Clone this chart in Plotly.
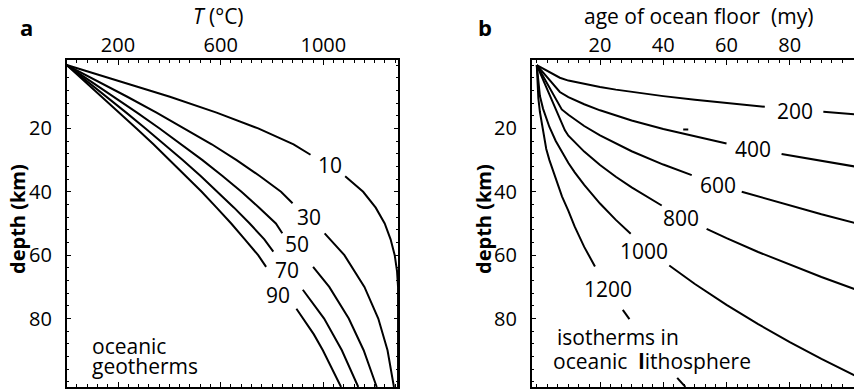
import plotly.graph_objects as go

W, H = 854, 389

# ---------------- Panel a: oceanic geotherms (T in °C vs depth in km), by plate age (my)
geo_labels = ["10", "30", "50", "70", "90"]
geo10_depth = [0, 5, 10, 15, 20, 25, 28.3, None, 35.1, 40, 45, 50, 55, 60, 65, 70, 80, 90, 101.6]
geo10_temp = [0, 205, 402, 584, 746, 884, 950, None, 1085, 1155, 1204, 1239, 1262, 1278, 1287, 1291, 1291, 1291, 1291]
geo30_depth = [0, 5, 10, 15, 20, 25, 30, 35, 40, 43.6, None, 53.1, 60, 70, 80, 90, 101.6]
geo30_temp = [0, 119, 236, 350, 460, 565, 662, 752, 835, 880, None, 1005, 1082, 1160, 1214, 1250, 1275]
geo50_depth = [0, 5, 10, 15, 20, 25, 30, 35, 40, 45, 50, 53.1, None, 63.7, 70, 80, 90, 101.6]
geo50_temp = [0, 92, 184, 274, 362, 447, 529, 607, 681, 750, 815, 840, None, 960, 1023, 1099, 1157, 1208]
geo70_depth = [0, 5, 10, 15, 20, 25, 30, 35, 40, 45, 50, 55, 58.9, None, 70.9, 80, 90, 101.6]
geo70_temp = [0, 78, 155, 232, 307, 381, 453, 522, 589, 652, 713, 770, 805, None, 920, 1003, 1072, 1136]
geo90_depth = [0, 5, 10, 15, 20, 25, 30, 35, 40, 45, 50, 55, 60, 63.7, None, 76.9, 85, 90, 101.6]
geo90_temp = [0, 69, 137, 205, 272, 338, 402, 465, 526, 584, 641, 694, 746, 777, None, 895, 963, 998, 1069]
# label positions (T, depth)
geo_label_temp = [1026, 945, 898, 857, 824]
geo_label_depth = [31.4, 47.8, 56.6, 64.8, 72.5]
temp_ticks = [200, 600, 1000]

# ---------------- Panel b: isotherms in oceanic lithosphere (depth in km vs age in my)
iso_labels = ["200", "400", "600", "800", "1000", "1200"]
iso200_age = [0, 7.3, 10, 15, 20, 25, 30, 40, 50, 60, 72.1, None, 90.6, 100.5]
iso200_depth = [0, 4.0, 4.9, 6.0, 6.93, 7.75, 8.49, 9.8, 10.96, 12.0, 13.16, None, 14.75, 15.5]
iso400_age = [0, 7.3, 10, 15, 20, 25, 30, 40, 50, 60.0, None, 77.4, 90, 100.5]
iso400_depth = [0, 8.5, 10.1, 12.37, 14.28, 15.97, 17.49, 20.2, 22.58, 24.74, None, 28.1, 30.3, 32.0]
iso600_age = [0, 7.9, 10, 15, 20, 25, 30, 40, 49.0, None, 64.8, 80, 90, 100.5]
iso600_depth = [0, 14.0, 15.7, 19.23, 22.2, 24.82, 27.19, 31.4, 34.75, None, 39.97, 44.4, 47.1, 49.8]
iso800_age = [0, 8.9, 10, 15, 20, 25, 30, 39.5, None, 53.7, 60, 70, 80, 90, 100.5]
iso800_depth = [0, 20.6, 22.3, 27.31, 31.54, 35.26, 38.62, 44.32, None, 51.68, 54.62, 59.0, 63.07, 66.9, 70.7]
iso1000_age = [0, 1, 2, 4, 6, 8, 10, 12, 15, 20, 25, 29.7, None, 41.9, 50, 60, 70, 80, 90, 100.5]
iso1000_depth = [0, 9.77, 13.82, 19.54, 23.94, 27.64, 30.9, 33.85, 37.84, 43.7, 48.86, 53.25, None, 63.25, 69.1, 75.69, 81.76, 87.4, 92.7, 97.96]
iso1200_age = [0, 0.5, 1, 2, 3, 4, 6, 8, 10, 12, 15, 18.4, None, 27.2, 29.3, None, 44.4, 47.0]
iso1200_depth = [0, 10.48, 14.81, 20.95, 26.5, 30.0, 36.1, 41.5, 46.0, 51.0, 57.38, 63.55, None, 77.27, 80.2, None, 98.72, 101.57]
iso_label_age = [81.6, 68.4, 57.4, 45.5, 33.9, 22.6]
iso_label_depth = [14.5, 26.4, 37.8, 48.4, 58.6, 70.6]
# small stray dash visible above the 400 isotherm in the original
stray_age = [46.3, 47.9]
stray_depth = [20.3, 20.3]
age_ticks = [20, 40, 60, 80]
depth_ticks = [20, 40, 60, 80]

FONT = "Open Sans"
LINE = dict(color="black", width=2)

fig = go.Figure()

geo_curves = [(geo10_temp, geo10_depth), (geo30_temp, geo30_depth), (geo50_temp, geo50_depth),
              (geo70_temp, geo70_depth), (geo90_temp, geo90_depth)]
for (t, d), name in zip(geo_curves, geo_labels):
    fig.add_trace(go.Scatter(x=t, y=d, mode="lines", line=LINE, name=name,
                             connectgaps=False, xaxis="x", yaxis="y", hoverinfo="skip"))

iso_curves = [(iso200_age, iso200_depth), (iso400_age, iso400_depth), (iso600_age, iso600_depth),
              (iso800_age, iso800_depth), (iso1000_age, iso1000_depth), (iso1200_age, iso1200_depth)]
for (a, d), name in zip(iso_curves, iso_labels):
    fig.add_trace(go.Scatter(x=a, y=d, mode="lines", line=LINE, name=name,
                             connectgaps=False, xaxis="x2", yaxis="y2", hoverinfo="skip"))
fig.add_trace(go.Scatter(x=stray_age, y=stray_depth, mode="lines", line=LINE, name="mark",
                         xaxis="x2", yaxis="y2", hoverinfo="skip"))

TXT = dict(size=21, family=FONT, color="black")
ann = []
for t, d, s in zip(geo_label_temp, geo_label_depth, geo_labels):
    ann.append(dict(x=t, y=d, xref="x", yref="y", text=s, showarrow=False,
                    xanchor="center", yanchor="middle", font=TXT))
for a, d, s in zip(iso_label_age, iso_label_depth, iso_labels):
    ann.append(dict(x=a, y=d, xref="x2", yref="y2", text=s, showarrow=False,
                    xanchor="center", yanchor="middle", font=TXT))


def px(x, y):
    return dict(x=x / W, y=1 - y / H, xref="paper", yref="paper",
                xanchor="center", yanchor="middle", showarrow=False)


ann += [
    dict(x=91, y=88.6, xref="x", yref="y", text="oceanic", showarrow=False,
         xanchor="left", yanchor="middle", font=TXT),
    dict(x=91, y=94.9, xref="x", yref="y", text="geotherms", showarrow=False,
         xanchor="left", yanchor="middle", font=TXT),
    dict(x=5.8, y=85.9, xref="x2", yref="y2", text="isotherms in", showarrow=False,
         xanchor="left", yanchor="middle", font=TXT),
    dict(x=4.5, y=93.3, xref="x2", yref="y2", text="oceanic  <b>l</b>ithosphere", showarrow=False,
         xanchor="left", yanchor="middle", font=TXT),
    dict(**px(26, 27), text="<b>a</b>", font=dict(size=22, family=FONT, color="black")),
    dict(**px(485, 27), text="<b>b</b>", font=dict(size=22, family=FONT, color="black")),
    dict(**px(218, 16), text="<i>T</i> (°C)", font=TXT),
    dict(**px(698, 16), text="age of ocean floor  (my)", font=TXT),
    dict(**px(17, 219), text="<b>depth (km)</b>", textangle=-90,
         font=dict(size=20, family=FONT, color="black")),
    dict(**px(483, 219), text="<b>depth (km)</b>", textangle=-90,
         font=dict(size=20, family=FONT, color="black")),
]

ydom = [(H - 387) / H, (H - 60) / H]
common = dict(showgrid=False, zeroline=False, showline=True, linecolor="black", linewidth=1.5,
              ticks="inside", ticklen=5, tickwidth=1, tickcolor="black", automargin=False,
              tickfont=dict(size=20, family=FONT, color="black"))

fig.update_layout(
    width=W, height=H, margin=dict(l=0, r=0, t=0, b=0),
    paper_bgcolor="white", plot_bgcolor="white", showlegend=False,
    annotations=ann,
    xaxis=dict(domain=[66.7 / W, 398.3 / W], range=[0, 1292], side="top", anchor="y",
               tickmode="array", tickvals=temp_ticks, mirror="ticks", ticklabelstandoff=-2,
               minor=dict(dtick=40, tick0=0, ticks="inside", ticklen=3, tickcolor="black", showgrid=False),
               **common),
    yaxis=dict(domain=ydom, range=[101.6, -1.6], anchor="x", tickmode="array",
               tickvals=depth_ticks, mirror="ticks", ticklabelstandoff=9,
               minor=dict(dtick=4, tick0=0, ticks="inside", ticklen=3, tickcolor="black", showgrid=False),
               **common),
    xaxis2=dict(domain=[531.7 / W, 1.0], range=[-1.6, 100.3], side="top", anchor="y2",
                tickmode="array", tickvals=age_ticks, mirror="ticks", ticklabelstandoff=-2,
                minor=dict(dtick=10 / 3, tick0=0, ticks="inside", ticklen=3, tickcolor="black", showgrid=False),
                **common),
    yaxis2=dict(domain=ydom, range=[101.6, -1.6], anchor="x2", tickmode="array",
                tickvals=depth_ticks, mirror=False, ticklabelstandoff=9,
                minor=dict(dtick=4, tick0=0, ticks="inside", ticklen=3, tickcolor="black", showgrid=False),
                **common),
)

# remove the browser's default 8px page margin so the figure sits at the window's top-left corner
fig.write_html("out.html", config={"displayModeBar": False},
               post_script="document.body.style.margin='0px';")
